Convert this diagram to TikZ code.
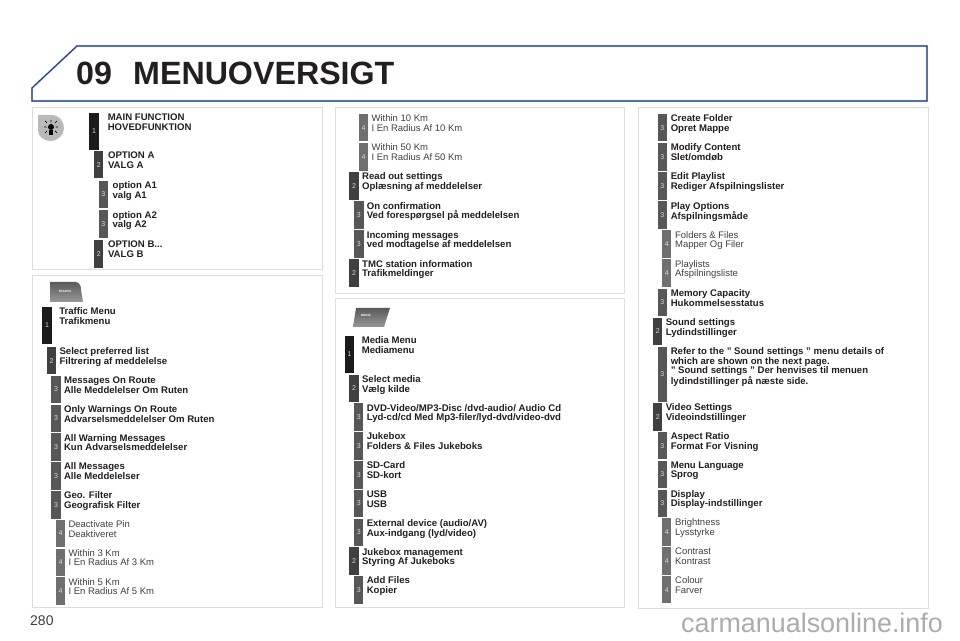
\documentclass[tikz,border=0pt]{standalone}
\usepackage{fontspec}
\setmainfont{Liberation Sans}
\usepackage{tikz}
\usetikzlibrary{positioning}
\definecolor{headblue}{HTML}{1F3F7C}
\definecolor{headhalo}{HTML}{C9D2E2}
\definecolor{panelgrey}{HTML}{DDDDDD}
\definecolor{lvlone}{HTML}{1C1A1B}
\definecolor{lvltwo}{HTML}{404040}
\definecolor{lvlthree}{HTML}{575757}
\definecolor{lvlfour}{HTML}{6F6F6F}
\definecolor{numgrey}{HTML}{D8D8D8}
\definecolor{boldtxt}{HTML}{231F20}
\definecolor{plaintxt}{HTML}{404040}
\tikzstyle{panel} = [draw=panelgrey,line width=1pt]
\tikzstyle{bar} = [inner sep=0pt,outer sep=0pt,minimum width=9.5pt,minimum height=27.5pt,text=numgrey,font=\fontsize{7}{7}\selectfont]
\tikzstyle{barone} = [bar,fill=lvlone,minimum height=37pt]
\tikzstyle{bartwo} = [bar,fill=lvltwo]
\tikzstyle{barthree} = [bar,fill=lvlthree]
\tikzstyle{barfour} = [bar,fill=lvlfour]
\tikzstyle{lblb} = [inner sep=0pt,outer sep=0pt,yshift=-0.8pt,align=left,text=boldtxt,font=\fontsize{9.6}{9.7}\selectfont\bfseries]
\tikzstyle{lblr} = [inner sep=0pt,outer sep=0pt,yshift=-0.3pt,align=left,text=plaintxt,font=\fontsize{9.5}{9.7}\selectfont]
\tikzstyle{titletxt} = [inner sep=0pt,anchor=base west,text=boldtxt,font=\fontsize{32.2}{34}\selectfont\bfseries]
\tikzstyle{tabtxt} = [inner sep=0pt,text=white,font=\fontsize{3}{3}\selectfont\bfseries]

\begin{document}
\begin{tikzpicture}[x=1pt,y=1pt]
	\useasboundingbox (0,0) rectangle (960,640);
	\fill[white] (0,0) rectangle (960,640);

	%Header
	\draw[headhalo,line width=2.2pt] (32,539) -- (32,552) -- (77,594) -- (927,594) -- (927,539) -- cycle;
	\draw[headblue,line width=1.1pt] (32,539) -- (32,552) -- (77,594) -- (927,594) -- (927,539) -- cycle;
	\node [titletxt] (num) at (76,555) {09};
	\node [titletxt] (title) at (133,555) {MENUOVERSIGT};

	%Panels
	\draw[panel] (32,370) rectangle (322,532);
	\draw[panel] (32,33) rectangle (322,364);
	\draw[panel] (335,346) rectangle (624,532);
	\draw[panel] (335,33) rectangle (624,341);
	\draw[panel] (638,32) rectangle (928,532);

	%Icons
	\fill[gray!55] (38,525) -- (51,525) .. controls (59,525) and (64,519) .. (64,512) .. controls (64,505) and (58,499) .. (51,499) .. controls (44,499) and (38,503) .. (38,510) -- cycle;
	\fill[black] (51,513) circle (3pt);
	\fill[black] (49,505) rectangle (53,510);
	\draw[black,line width=0.7pt] (51,517.5) -- (51,520) (55,517) -- (57,519) (47,517) -- (45,519) (55.5,513) -- (58,513) (46.5,513) -- (44,513) (55,509) -- (57,507) (47,509) -- (45,507);
	\shade[top color=gray!70!black,bottom color=gray!80] (50,358) -- (76,358) .. controls (80,357) and (81,354) .. (81,350) -- (83,338) -- (50,338) -- cycle;
	\node [tabtxt] (traffic) at (65,349) {TRAFFIC};
	\shade[top color=gray!70!black,bottom color=gray!80] (356,332) -- (390,332) -- (384,313) -- (353,313) -- cycle;
	\node [tabtxt] (media) at (366,325) {MEDIA};

	%Main function
	\node [barone,anchor=north] (a1) at (94,527) {1};
	\node [lblb,below right=0pt and 9pt of a1.north east] (a1t) {MAIN FUNCTION\\HOVEDFUNKTION};
	\node [bartwo,below=1pt of a1,xshift=4.7pt] (a2) {2};
	\node [lblb,below right=0pt and 4.6pt of a2.north east] (a2t) {OPTION A\\VALG A};
	\node [barthree,below=2.2pt of a2,xshift=4.6pt] (a3) {3};
	\node [lblb,below right=0pt and 4.6pt of a3.north east] (a3t) {option A1\\valg A1};
	\node [barthree,below=2.2pt of a3] (a4) {3};
	\node [lblb,below right=0pt and 4.6pt of a4.north east] (a4t) {option A2\\valg A2};
	\node [bartwo,below=2.2pt of a4,xshift=-4.6pt] (a5) {2};
	\node [lblb,below right=0pt and 4.6pt of a5.north east] (a5t) {OPTION B...\\VALG B};

	%Traffic
	\node [barone,anchor=north] (b1) at (47,333) {1};
	\node [lblb,below right=0pt and 7.5pt of b1.north east] (b1t) {Traffic Menu\\Trafikmenu};
	\node [bartwo,below=3pt of b1,xshift=4.5pt] (b2) {2};
	\node [lblb,below right=0pt and 3.3pt of b2.north east] (b2t) {Select preferred list\\Filtrering af meddelelse};
	\node [barthree,below=1.3pt of b2,xshift=4.5pt] (b3) {3};
	\node [lblb,below right=0pt and 3.3pt of b3.north east] (b3t) {Messages On Route\\Alle Meddelelser Om Ruten};
	\node [barthree,below=1.3pt of b3] (b4) {3};
	\node [lblb,below right=0pt and 3.3pt of b4.north east] (b4t) {Only Warnings On Route\\Advarselsmeddelelser Om Ruten};
	\node [barthree,below=1.3pt of b4] (b5) {3};
	\node [lblb,below right=0pt and 3.3pt of b5.north east] (b5t) {All Warning Messages\\Kun Advarselsmeddelelser};
	\node [barthree,below=1.3pt of b5] (b6) {3};
	\node [lblb,below right=0pt and 3.3pt of b6.north east] (b6t) {All Messages\\Alle Meddelelser};
	\node [barthree,below=1.3pt of b6] (b7) {3};
	\node [lblb,below right=0pt and 3.3pt of b7.north east] (b7t) {Geo. Filter\\Geografisk Filter};
	\node [barfour,below=1.3pt of b7,xshift=4.5pt] (b8) {4};
	\node [lblr,below right=0.5pt and 3.3pt of b8.north east] (b8t) {Deactivate Pin\\Deaktiveret};
	\node [barfour,below=1.3pt of b8] (b9) {4};
	\node [lblr,below right=0.5pt and 3.3pt of b9.north east] (b9t) {Within 3 Km\\I En Radius Af 3 Km};
	\node [barfour,below=1.3pt of b9] (b10) {4};
	\node [lblr,below right=0.5pt and 3.3pt of b10.north east] (b10t) {Within 5 Km\\I En Radius Af 5 Km};

	%Read out settings
	\node [barfour,anchor=north] (c1) at (363.5,526) {4};
	\node [lblr,below right=0.5pt and 3.3pt of c1.north east] (c1t) {Within 10 Km\\I En Radius Af 10 Km};
	\node [barfour,below=1.6pt of c1] (c2) {4};
	\node [lblr,below right=0.5pt and 3.3pt of c2.north east] (c2t) {Within 50 Km\\I En Radius Af 50 Km};
	\node [bartwo,below=1.6pt of c2,xshift=-9.4pt] (c3) {2};
	\node [lblb,below right=0pt and 3.3pt of c3.north east] (c3t) {Read out settings\\Oplæsning af meddelelser};
	\node [barthree,below=1.6pt of c3,xshift=4.7pt] (c4) {3};
	\node [lblb,below right=0pt and 3.3pt of c4.north east] (c4t) {On confirmation\\Ved forespørgsel på meddelelsen};
	\node [barthree,below=1.6pt of c4] (c5) {3};
	\node [lblb,below right=0pt and 3.3pt of c5.north east] (c5t) {Incoming messages\\ved modtagelse af meddelelsen};
	\node [bartwo,below=1.6pt of c5,xshift=-4.7pt] (c6) {2};
	\node [lblb,below right=0pt and 3.3pt of c6.north east] (c6t) {TMC station information\\Trafikmeldinger};

	%Media
	\node [barone,anchor=north] (d1) at (349.5,304) {1};
	\node [lblb,below right=0pt and 7.5pt of d1.north east] (d1t) {Media Menu\\Mediamenu};
	\node [bartwo,below=1.6pt of d1,xshift=4.5pt] (d2) {2};
	\node [lblb,below right=0pt and 3.3pt of d2.north east] (d2t) {Select media\\Vælg kilde};
	\node [barthree,below=1.3pt of d2,xshift=4.7pt] (d3) {3};
	\node [lblb,below right=0pt and 3.3pt of d3.north east] (d3t) {DVD-Video/MP3-Disc /dvd-audio/ Audio Cd\\Lyd-cd/cd Med Mp3-filer/lyd-dvd/video-dvd};
	\node [barthree,below=1.3pt of d3] (d4) {3};
	\node [lblb,below right=0pt and 3.3pt of d4.north east] (d4t) {Jukebox\\Folders \& Files Jukeboks};
	\node [barthree,below=1.3pt of d4] (d5) {3};
	\node [lblb,below right=0pt and 3.3pt of d5.north east] (d5t) {SD-Card\\SD-kort};
	\node [barthree,below=1.3pt of d5] (d6) {3};
	\node [lblb,below right=0pt and 3.3pt of d6.north east] (d6t) {USB\\USB};
	\node [barthree,below=1.3pt of d6] (d7) {3};
	\node [lblb,below right=0pt and 3.3pt of d7.north east] (d7t) {External device (audio/AV)\\Aux-indgang (lyd/video)};
	\node [bartwo,below=1.3pt of d7,xshift=-4.7pt] (d8) {2};
	\node [lblb,below right=0pt and 3.3pt of d8.north east] (d8t) {Jukebox management\\Styring Af Jukeboks};
	\node [barthree,below=1.3pt of d8,xshift=4.7pt] (d9) {3};
	\node [lblb,below right=0pt and 3.3pt of d9.north east] (d9t) {Add Files\\Kopier};

	%Jukebox, sound and video
	\node [barthree,anchor=north] (e1) at (662.3,526) {3};
	\node [lblb,below right=0pt and 3.7pt of e1.north east] (e1t) {Create Folder\\Opret Mappe};
	\node [barthree,below=1.6pt of e1] (e2) {3};
	\node [lblb,below right=0pt and 3.7pt of e2.north east] (e2t) {Modify Content\\Slet/omdøb};
	\node [barthree,below=1.6pt of e2] (e3) {3};
	\node [lblb,below right=0pt and 3.7pt of e3.north east] (e3t) {Edit Playlist\\Rediger Afspilningslister};
	\node [barthree,below=1.6pt of e3] (e4) {3};
	\node [lblb,below right=0pt and 3.7pt of e4.north east] (e4t) {Play Options\\Afspilningsmåde};
	\node [barfour,below=1.6pt of e4,xshift=4.4pt] (e5) {4};
	\node [lblr,below right=0.5pt and 3.7pt of e5.north east] (e5t) {Folders \& Files\\Mapper Og Filer};
	\node [barfour,below=1.6pt of e5] (e6) {4};
	\node [lblr,below right=0.5pt and 3.7pt of e6.north east] (e6t) {Playlists\\Afspilningsliste};
	\node [barthree,below=1.6pt of e6,xshift=-4.4pt] (e7) {3};
	\node [lblb,below right=0pt and 3.7pt of e7.north east] (e7t) {Memory Capacity\\Hukommelsesstatus};
	\node [bartwo,below=1.6pt of e7,xshift=-4.6pt] (e8) {2};
	\node [lblb,below right=0pt and 3.3pt of e8.north east] (e8t) {Sound settings\\Lydindstillinger};
	\node [barthree,minimum height=55pt,below=1.6pt of e8,xshift=4.6pt] (e9) {3};
	\node [lblb,below right=0pt and 3.7pt of e9.north east] (e9t) {Refer to the " Sound settings " menu details of\\which are shown on the next page.\\" Sound settings " Der henvises til menuen\\lydindstillinger på næste side.};
	\node [bartwo,below=1.3pt of e9,xshift=-4.6pt] (e10) {2};
	\node [lblb,below right=0pt and 3.3pt of e10.north east] (e10t) {Video Settings\\Videoindstillinger};
	\node [barthree,below=1.3pt of e10,xshift=4.6pt] (e11) {3};
	\node [lblb,below right=0pt and 3.7pt of e11.north east] (e11t) {Aspect Ratio\\Format For Visning};
	\node [barthree,below=1.3pt of e11] (e12) {3};
	\node [lblb,below right=0pt and 3.7pt of e12.north east] (e12t) {Menu Language\\Sprog};
	\node [barthree,below=1.3pt of e12] (e13) {3};
	\node [lblb,below right=0pt and 3.7pt of e13.north east] (e13t) {Display\\Display-indstillinger};
	\node [barfour,below=1.3pt of e13,xshift=4.4pt] (e14) {4};
	\node [lblr,below right=0.5pt and 3.7pt of e14.north east] (e14t) {Brightness\\Lysstyrke};
	\node [barfour,below=1.3pt of e14] (e15) {4};
	\node [lblr,below right=0.5pt and 3.7pt of e15.north east] (e15t) {Contrast\\Kontrast};
	\node [barfour,below=1.3pt of e15] (e16) {4};
	\node [lblr,below right=0.5pt and 3.7pt of e16.north east] (e16t) {Colour\\Farver};

	%Page number and site name
	\node [inner sep=0pt,anchor=base west,text=plaintxt,font=\fontsize{14}{14}\selectfont] (page) at (30,14.3) {280};
	\node [inner sep=0pt,anchor=base west,text=gray!65,font=\fontsize{26.9}{27}\selectfont] (site) at (681,7.3) {carmanualsonline.info};
\end{tikzpicture}
\end{document}
